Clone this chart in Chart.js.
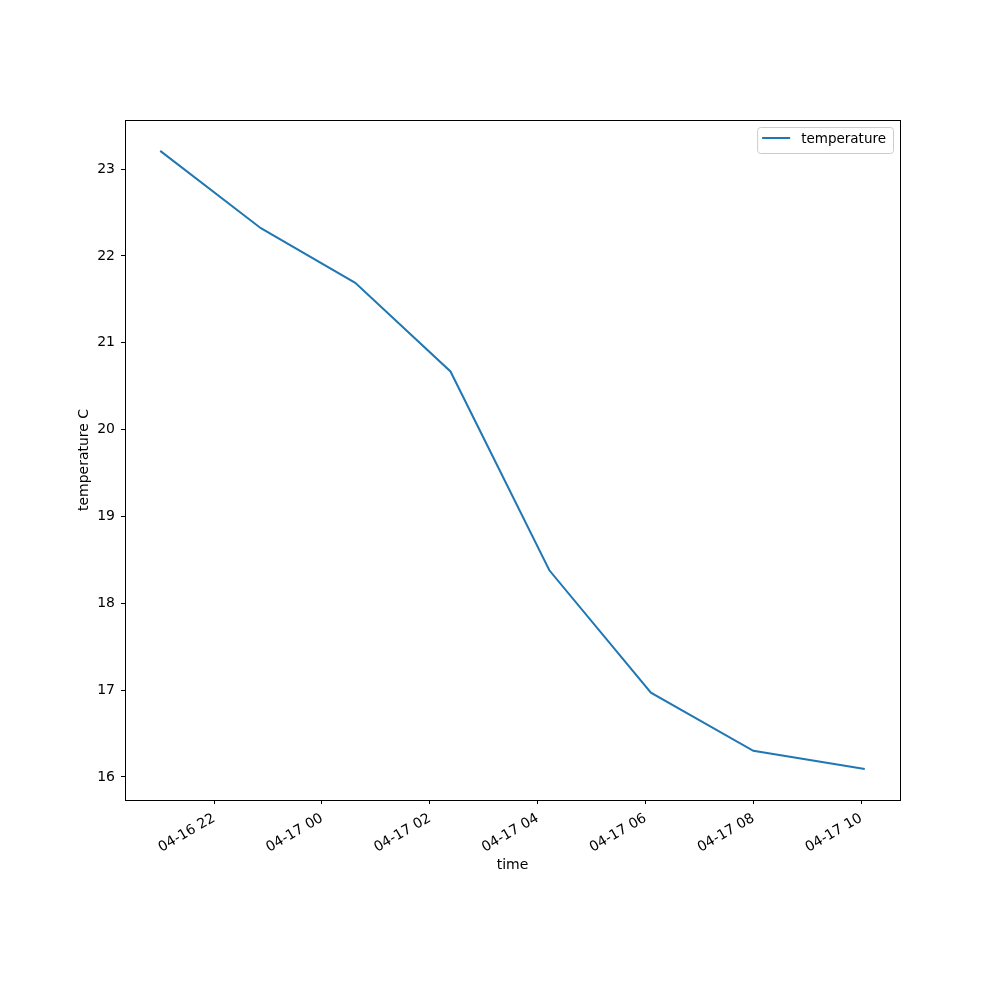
<!DOCTYPE html>
<html>
<head>
<meta charset="utf-8">
<script src="https://cdn.jsdelivr.net/npm/chart.js@4"></script>
<style>
  html, body { margin: 0; padding: 0; background: #fff; }
  #wrap { width: 1000px; height: 1000px; }
</style>
</head>
<body>
<div id="wrap"><canvas id="chart" width="1000" height="1000"></canvas></div>
<script>
// Data
const times = ['04-16 21:00', '04-16 22:52', '04-17 00:37', '04-17 02:23',
               '04-17 04:13', '04-17 06:06', '04-17 08:00', '04-17 10:04'];
const temperature = [23.21, 22.32, 21.69, 20.67, 18.38, 16.97, 16.30, 16.09];
const xTickHours = [22, 24, 26, 28, 30, 32, 34];
const yTicks = [16, 17, 18, 19, 20, 21, 22, 23];

// hours counted from 04-16 00:00 (no date adapter offline)
function toHours(s) {
    const day = parseInt(s.slice(3, 5));
    const hh = parseInt(s.slice(6, 8));
    const mm = parseInt(s.slice(9, 11));
    return (day - 16) * 24 + hh + mm / 60;
}
function hourLabel(h) {
    const day = 16 + Math.floor(h / 24);
    const hh = Math.round(h % 24);
    return '04-' + day + ' ' + String(hh).padStart(2, '0');
}

const xs = times.map(toHours);
const points = xs.map((x, i) => ({ x: x, y: temperature[i] }));

// matplotlib style 5% margins
function limits(arr) {
    const lo = Math.min(...arr), hi = Math.max(...arr);
    const m = (hi - lo) * 0.05;
    return [lo - m, hi + m];
}
const [xMin, xMax] = limits(xs);
const [yMin, yMax] = limits(temperature);

const FONT = 'DejaVu Sans';

// frame + legend inside the axes, like matplotlib
const framePlugin = {
    id: 'frame',
    afterDraw(chart) {
        const { ctx, chartArea: a } = chart;
        ctx.save();
        ctx.strokeStyle = '#000';
        ctx.lineWidth = 1;
        ctx.strokeRect(Math.round(a.left) + 0.5, Math.round(a.top) + 0.5,
                       Math.round(a.right - a.left), Math.round(a.bottom - a.top));

        // legend
        const ds = chart.data.datasets[0];
        ctx.font = '13.5px "' + FONT + '"';
        const tw = ctx.measureText(ds.label).width;
        const w = tw + 51, h = 26;
        const x0 = a.right - 7 - w, y0 = a.top + 7;
        ctx.fillStyle = 'rgba(255,255,255,0.8)';
        ctx.strokeStyle = '#cccccc';
        ctx.beginPath();
        ctx.roundRect(x0 + 0.5, y0 + 0.5, w, h, 3);
        ctx.fill();
        ctx.stroke();
        ctx.strokeStyle = ds.borderColor;
        ctx.lineWidth = 2;
        ctx.beginPath();
        ctx.moveTo(x0 + 5, y0 + 11);
        ctx.lineTo(x0 + 33, y0 + 11);
        ctx.stroke();
        ctx.fillStyle = '#000';
        ctx.textBaseline = 'middle';
        ctx.fillText(ds.label, x0 + 44, y0 + 12);
        ctx.restore();
    }
};

new Chart(document.getElementById('chart'), {
    type: 'line',
    data: {
        datasets: [{
            label: 'temperature',
            data: points,
            borderColor: '#1f77b4',
            borderWidth: 2,
            pointRadius: 0,
            fill: false,
            tension: 0
        }]
    },
    options: {
        responsive: false,
        animation: false,
        layout: { padding: { top: 120, right: 100, left: 0, bottom: 0 } },
        plugins: { legend: { display: false }, tooltip: { enabled: false } },
        scales: {
            x: {
                type: 'linear',
                min: xMin,
                max: xMax,
                afterFit(s) { s.height = 200; },
                afterBuildTicks(s) { s.ticks = xTickHours.map(v => ({ value: v })); },
                border: { display: false },
                grid: { drawOnChartArea: false, drawTicks: true, tickLength: 4, color: '#000' },
                ticks: {
                    color: '#000',
                    font: { family: FONT, size: 14 },
                    minRotation: 30,
                    maxRotation: 30,
                    padding: 6,
                    autoSkip: false,
                    callback: v => hourLabel(v)
                },
                title: {
                    display: true,
                    text: 'time',
                    color: '#000',
                    font: { family: FONT, size: 14 },
                    padding: { top: 0, bottom: 126 }
                }
            },
            y: {
                min: yMin,
                max: yMax,
                afterFit(s) { s.width = 125; },
                afterBuildTicks(s) { s.ticks = yTicks.map(v => ({ value: v })); },
                border: { display: false },
                grid: { drawOnChartArea: false, drawTicks: true, tickLength: 4, color: '#000' },
                ticks: {
                    color: '#000',
                    font: { family: FONT, size: 14 },
                    padding: 6
                },
                title: {
                    display: true,
                    text: 'temperature C',
                    color: '#000',
                    font: { family: FONT, size: 14 },
                    padding: { top: 76, bottom: 0 }
                }
            }
        }
    },
    plugins: [framePlugin]
});
</script>
</body>
</html>
